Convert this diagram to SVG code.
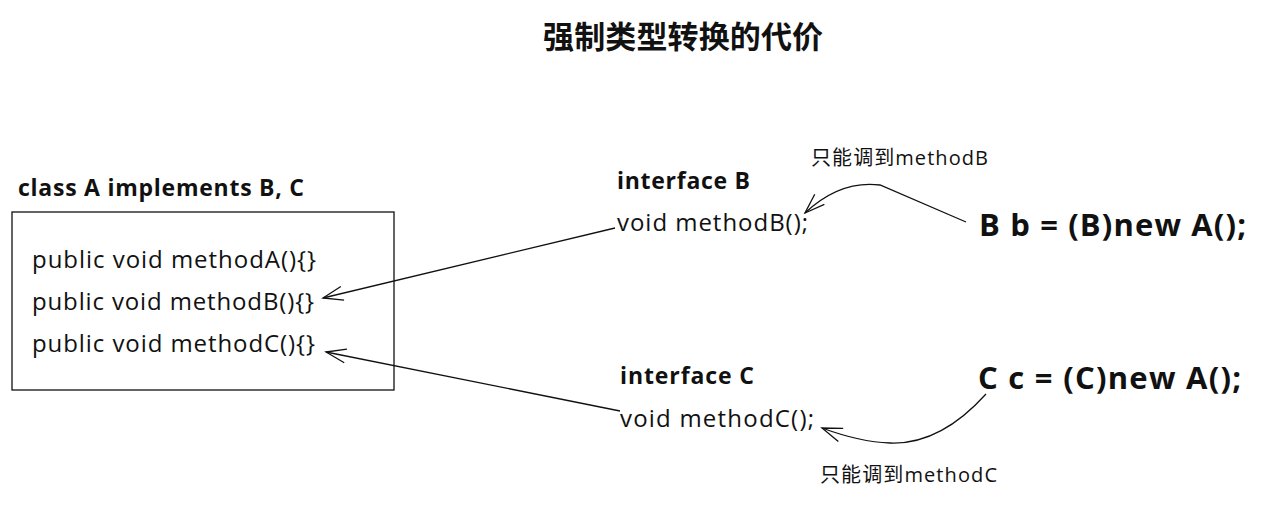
<svg xmlns="http://www.w3.org/2000/svg" width="1263" height="508" viewBox="0 0 1263 508">
<style>
text{font-family:"Open Sans","Noto Sans CJK SC",sans-serif;fill:#111}
.t{font-size:31px;font-weight:bold;font-family:"Noto Sans CJK SC",sans-serif}
.h{font-size:23px;font-weight:bold}
.m{font-size:24px}
.big{font-size:31px;font-weight:bold}
.note{font-size:20px;font-family:"Open Sans","Noto Sans CJK SC",sans-serif}
.c{fill:none;stroke:#111;stroke-width:1.3}
</style>
<defs>
<marker id="a" viewBox="0 0 24 24" refX="22" refY="12" markerWidth="24" markerHeight="24" markerUnits="userSpaceOnUse" orient="auto">
<path d="M2 5 L22 12 L2 19" fill="none" stroke="#111" stroke-width="1.3"/>
</marker>
</defs>
<text class="t" x="683" y="48" text-anchor="middle" textLength="280">强制类型转换的代价</text>
<g id="classA">
<text class="h" x="18" y="196" textLength="286">class A implements B, C</text>
<rect x="12" y="212" width="382" height="178" fill="none" stroke="#111" stroke-width="1.3"/>
<text class="m" x="32" y="268" textLength="284">public void methodA(){}</text>
<text class="m" x="32" y="310" textLength="282">public void methodB(){}</text>
<text class="m" x="32" y="352" textLength="283">public void methodC(){}</text>
</g>
<g id="interfaceB">
<text class="h" x="617" y="189" textLength="133">interface B</text>
<text class="m" x="617" y="231" textLength="191">void methodB();</text>
</g>
<g id="interfaceC">
<text class="h" x="620" y="384" textLength="134">interface C</text>
<text class="m" x="620" y="427" textLength="194">void methodC();</text>
</g>
<g id="castB">
<text class="big" x="979" y="236" textLength="267">B b = (B)new A();</text>
</g>
<g id="castC">
<text class="big" x="978" y="389" textLength="263">C c = (C)new A();</text>
</g>
<g id="noteB"><text class="note" x="811" y="165" textLength="177">只能调到methodB</text></g>
<g id="noteC"><text class="note" x="820" y="482" textLength="177">只能调到methodC</text></g>
<g id="connectors">
<path class="c" d="M615 228 L323 298" marker-end="url(#a)"/>
<path class="c" d="M620 411 L326 352" marker-end="url(#a)"/>
<path class="c" d="M966 222 L880 185 Q840 180 805 213" marker-end="url(#a)"/>
<path class="c" d="M986 394 Q940 445 890 443 Q860 442 822 428" marker-end="url(#a)"/>
</g>
</svg>
